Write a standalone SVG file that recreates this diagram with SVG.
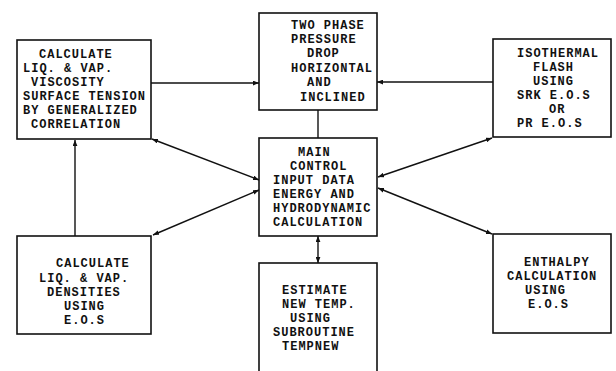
<svg xmlns="http://www.w3.org/2000/svg" width="616" height="371" viewBox="0 0 616 371">
<style>
.box{fill:#fff;stroke:#111;stroke-width:1.6}
.ln{fill:none;stroke:#111;stroke-width:1.4}
text{font-family:"Liberation Mono","DejaVu Sans Mono",monospace;font-size:12px;font-weight:bold;letter-spacing:1px;fill:#111}
</style>
<defs>
<marker id="ah" viewBox="0 0 10 8" refX="10" refY="4" markerWidth="6" markerHeight="5" markerUnits="userSpaceOnUse" orient="auto-start-reverse">
<path d="M0,0 L10,4 L0,8 Z" fill="#111"/>
</marker>
</defs>
<rect width="616" height="371" fill="#fff"/>
<g id="connectors">
<line class="ln" x1="151" y1="83" x2="259" y2="83" marker-end="url(#ah)"/>
<line class="ln" x1="493" y1="82" x2="377" y2="82" marker-end="url(#ah)"/>
<line class="ln" x1="318" y1="110" x2="318" y2="138"/>
<line class="ln" x1="318" y1="236" x2="318" y2="263" marker-start="url(#ah)" marker-end="url(#ah)"/>
<line class="ln" x1="75" y1="236" x2="75" y2="140" marker-end="url(#ah)"/>
<line class="ln" x1="152" y1="139" x2="259" y2="180" marker-start="url(#ah)" marker-end="url(#ah)"/>
<line class="ln" x1="153" y1="235" x2="259" y2="190" marker-start="url(#ah)" marker-end="url(#ah)"/>
<line class="ln" x1="492" y1="138" x2="378" y2="177" marker-start="url(#ah)" marker-end="url(#ah)"/>
<line class="ln" x1="492" y1="234" x2="378" y2="188" marker-start="url(#ah)" marker-end="url(#ah)"/>
</g>
<g id="viscosity">
<rect class="box" x="17" y="40" width="134" height="99"/>
<text x="39" y="58">CALCULATE</text>
<text x="23" y="72">LIQ. &amp; VAP.</text>
<text x="31" y="86">VISCOSITY</text>
<text x="23" y="100">SURFACE TENSION</text>
<text x="23" y="114">BY GENERALIZED</text>
<text x="31" y="128">CORRELATION</text>
</g>
<g id="pressure">
<rect class="box" x="259" y="13" width="118" height="97"/>
<text x="291" y="29">TWO PHASE</text>
<text x="291" y="43">PRESSURE</text>
<text x="307" y="57">DROP</text>
<text x="291" y="72">HORIZONTAL</text>
<text x="307" y="86">AND</text>
<text x="300" y="101">INCLINED</text>
</g>
<g id="flash">
<rect class="box" x="493" y="39" width="118" height="98"/>
<text x="517" y="57">ISOTHERMAL</text>
<text x="533" y="71">FLASH</text>
<text x="533" y="85">USING</text>
<text x="517" y="99">SRK E.O.S</text>
<text x="549" y="113">OR</text>
<text x="517" y="127">PR E.O.S</text>
</g>
<g id="main">
<rect class="box" x="259" y="138" width="118" height="98"/>
<text x="298" y="156">MAIN</text>
<text x="290" y="170">CONTROL</text>
<text x="273" y="184">INPUT DATA</text>
<text x="273" y="198">ENERGY AND</text>
<text x="273" y="212">HYDRODYNAMIC</text>
<text x="273" y="226">CALCULATION</text>
</g>
<g id="densities">
<rect class="box" x="17" y="236" width="134" height="98"/>
<text x="56" y="267">CALCULATE</text>
<text x="39" y="282">LIQ. &amp; VAP.</text>
<text x="47" y="296">DENSITIES</text>
<text x="64" y="310">USING</text>
<text x="64" y="324">E.O.S</text>
</g>
<g id="tempnew">
<rect class="box" x="259" y="263" width="118" height="120"/>
<text x="282" y="294">ESTIMATE</text>
<text x="282" y="308">NEW TEMP.</text>
<text x="290" y="322">USING</text>
<text x="273" y="336">SUBROUTINE</text>
<text x="282" y="350">TEMPNEW</text>
</g>
<g id="enthalpy">
<rect class="box" x="493" y="234" width="118" height="99"/>
<text x="524" y="266">ENTHALPY</text>
<text x="507" y="280">CALCULATION</text>
<text x="525" y="294">USING</text>
<text x="528" y="308">E.O.S</text>
</g>
</svg>
